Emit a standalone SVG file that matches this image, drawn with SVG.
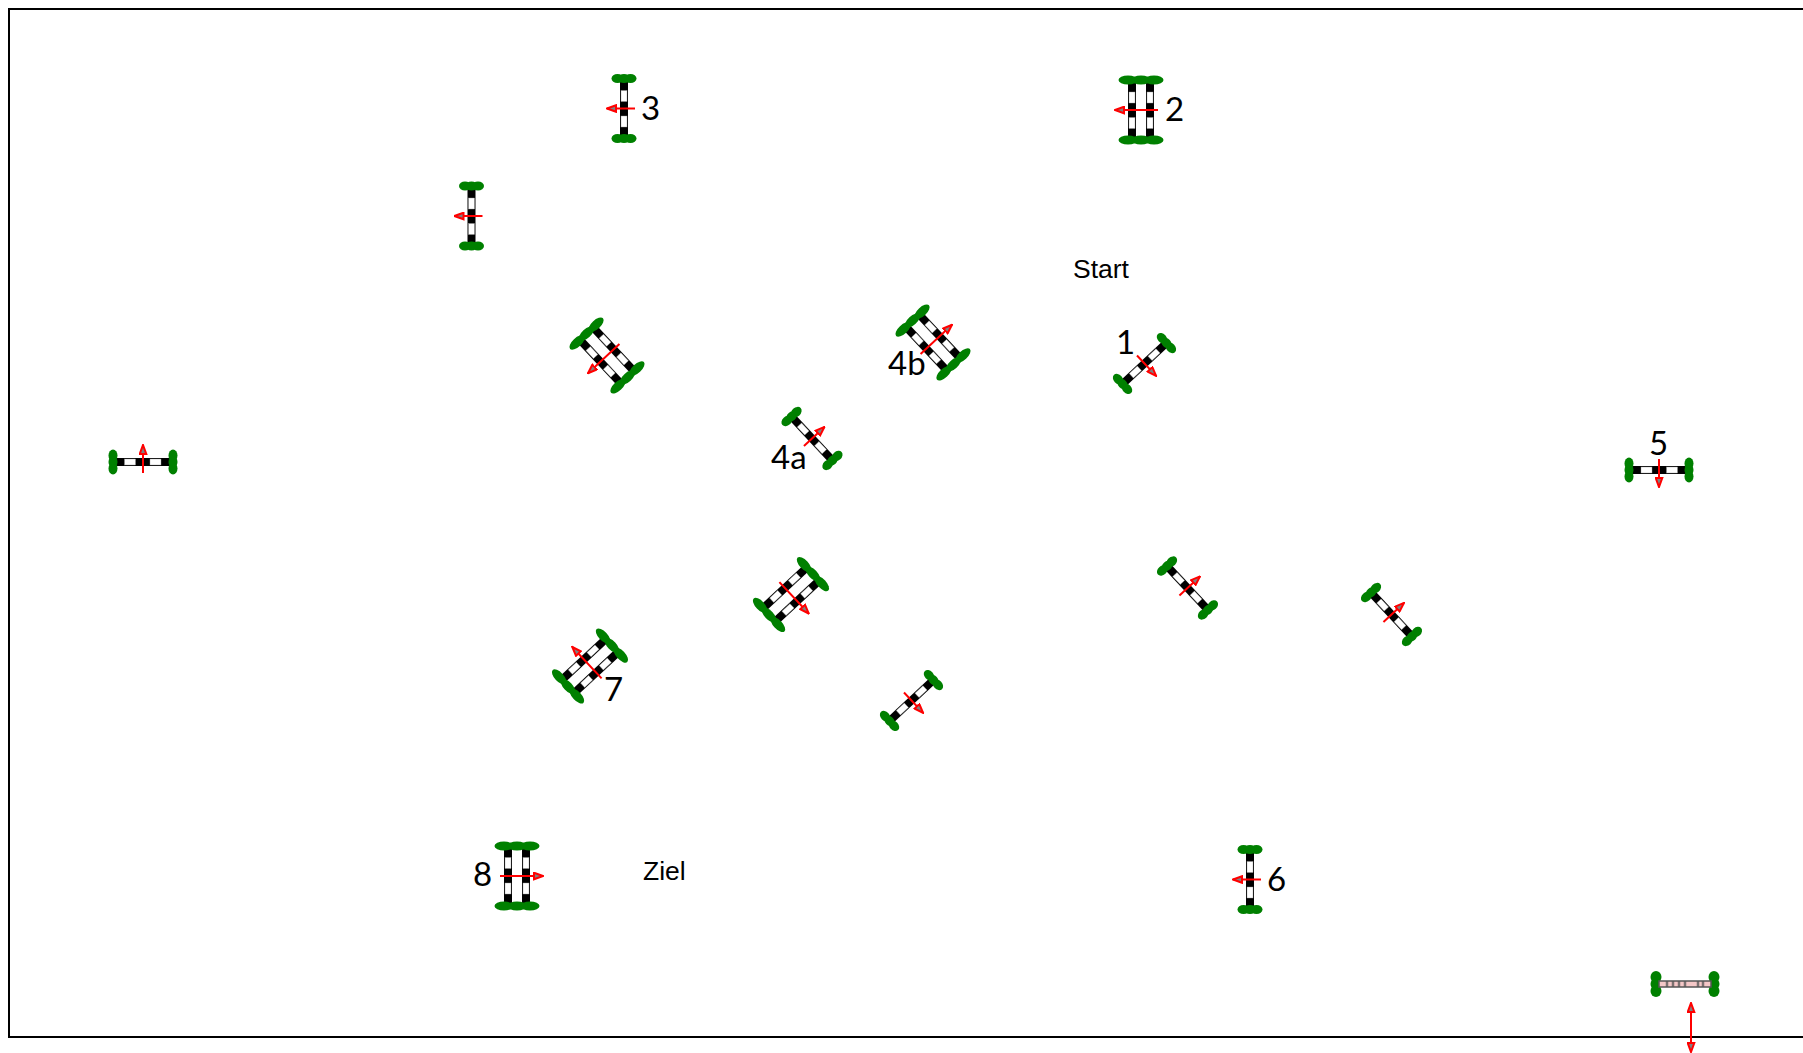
<svg xmlns="http://www.w3.org/2000/svg" width="1803" height="1053" viewBox="0 0 1803 1053">
<style>
.b{fill:#000}.w{fill:#fff;stroke:#999;stroke-width:.4}.g{fill:#008000}
.a{stroke:#f00;stroke-width:2;fill:none}
.l{font-family:Lato,"Open Sans",sans-serif;font-size:33px;fill:#000}
.t{font-family:"Liberation Sans",Arial,sans-serif;font-size:26.5px;fill:#000}
.pb{fill:#f4c7c7;stroke:#555;stroke-width:1.5}.pl{stroke:#555;stroke-width:2.5;opacity:.75}
</style>
<defs>
<marker id="h" viewBox="0 0 11 9" refX="10" refY="4.5" markerWidth="11" markerHeight="9" markerUnits="userSpaceOnUse" orient="auto-start-reverse"><path d="M1 1.2L10 4.5L1 7.8Z" fill="#808080" stroke="#f00" stroke-width="2"/></marker>
<g id="bar"><rect class="b" x="-4" y="-28" width="8" height="56"/><rect class="w" x="-3" y="-18" width="6" height="11"/><rect class="w" x="-3" y="7.5" width="6" height="11"/></g>
<g id="arrow"><path class="a" d="M11 0H-17" marker-end="url(#h)"/></g>
<g id="single"><use href="#bar"/><g class="g"><ellipse cx="-6.5" cy="-30" rx="6" ry="4.5"/><ellipse cx="0" cy="-30" rx="6" ry="4.5"/><ellipse cx="6.5" cy="-30" rx="6" ry="4.5"/><ellipse cx="-6.5" cy="30" rx="6" ry="4.5"/><ellipse cx="0" cy="30" rx="6" ry="4.5"/><ellipse cx="6.5" cy="30" rx="6" ry="4.5"/></g><use href="#arrow"/></g>
<g id="double"><use href="#bar" x="-9"/><use href="#bar" x="9"/><g class="g"><ellipse cx="-13" cy="-30" rx="9.5" ry="4.5"/><ellipse cx="0" cy="-30" rx="9.5" ry="4.5"/><ellipse cx="13" cy="-30" rx="9.5" ry="4.5"/><ellipse cx="-13" cy="30" rx="9.5" ry="4.5"/><ellipse cx="0" cy="30" rx="9.5" ry="4.5"/><ellipse cx="13" cy="30" rx="9.5" ry="4.5"/></g><path class="a" d="M17 0H-26" marker-end="url(#h)"/></g>
</defs>
<rect id="frame" x="9" y="9" width="1810" height="1028" fill="#fff" stroke="#000" stroke-width="2"/>
<g id="gate-3"><use href="#single" transform="translate(624 108.5)"/><text class="l" x="641" y="120">3</text></g>
<g id="gate-2"><use href="#double" transform="translate(1141 110)"/><text class="l" x="1165" y="121">2</text></g>
<g id="gate-a"><use href="#single" transform="translate(471.5 216)"/></g>
<g id="gate-b"><use href="#double" transform="translate(607 355.5) rotate(-43)"/></g>
<g id="gate-4b"><use href="#double" transform="translate(933 342.5) rotate(137)"/><text class="l" x="888" y="375">4b</text></g>
<g id="gate-4a"><use href="#single" transform="translate(812 438.5) rotate(137)"/><text class="l" x="771" y="469">4a</text></g>
<g id="gate-1"><use href="#single" transform="translate(1144.5 363.5) rotate(227)"/><text class="l" x="1116" y="354">1</text></g>
<g id="gate-c"><use href="#single" transform="translate(143 462) rotate(90)"/></g>
<g id="gate-5"><use href="#single" transform="translate(1659 470) rotate(-90)"/><text class="l" x="1649" y="455">5</text></g>
<g id="gate-d"><use href="#double" transform="translate(791 594.5) rotate(227)"/></g>
<g id="gate-e"><use href="#single" transform="translate(1187.5 588) rotate(137)"/></g>
<g id="gate-f"><use href="#single" transform="translate(1391.5 614.5) rotate(137)"/></g>
<g id="gate-7"><use href="#double" transform="translate(590 666) rotate(47)"/><text class="l" x="604" y="701">7</text></g>
<g id="gate-g"><use href="#single" transform="translate(911.5 700.5) rotate(227)"/></g>
<g id="gate-8"><use href="#double" transform="translate(517 876) rotate(180)"/><text class="l" x="473" y="886">8</text></g>
<g id="gate-6"><use href="#single" transform="translate(1250 879.5)"/><text class="l" x="1267" y="891">6</text></g>
<g id="gate-pink"><g class="g"><ellipse cx="1656" cy="977" rx="5.5" ry="6"/><ellipse cx="1656" cy="984" rx="5.5" ry="6"/><ellipse cx="1656" cy="991" rx="5.5" ry="6"/><ellipse cx="1714" cy="977" rx="5.5" ry="6"/><ellipse cx="1714" cy="984" rx="5.5" ry="6"/><ellipse cx="1714" cy="991" rx="5.5" ry="6"/></g><rect class="pb" x="1659" y="981" width="52" height="6"/><path class="pl" d="M1667 981v6M1673 981v6M1679 981v6M1685 981v6M1698 981v6M1703 981v6"/></g>
<g id="connectors"><path class="a" d="M1691 1003V1052" marker-start="url(#h)" marker-end="url(#h)"/></g>
<text class="t" x="1073" y="278">Start</text>
<text class="t" x="643" y="880">Ziel</text>
</svg>
